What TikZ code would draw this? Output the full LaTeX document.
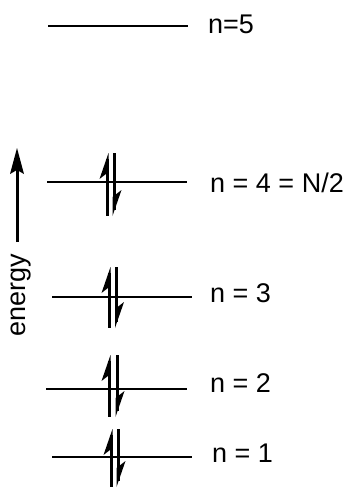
\documentclass[tikz,border=0pt]{standalone}
\usepackage{fontspec}
\setmainfont{Liberation Sans}
\begin{document}
\begin{tikzpicture}[x=1pt,y=-1pt,
  level/.style={line width=2pt},
  shaft/.style={line width=3pt},
  lbl/.style={anchor=base west,inner sep=0pt,font=\fontsize{27}{32}\selectfont}]
\useasboundingbox (0,0) rectangle (343,488);
\newcommand{\spinpair}[4]{%
  % #1 x up, #2 x down, #3 y top, #4 y bottom
  \draw[shaft] (#1,#3+6) -- (#1,#4);
  \fill (#1+1.5,#3) -- (#1-7.5,#3+26) -- (#1+1.5,#3+19) -- cycle;
  \draw[shaft] (#2,#3) -- (#2,#4-6);
  \fill (#2-1.5,#4) -- (#2+7.5,#4-26) -- (#2-1.5,#4-19) -- cycle;
}
% levels
\coordinate (l5a) at (48,26);  \coordinate (l5b) at (188,26);
\coordinate (l4a) at (47,182); \coordinate (l4b) at (187,182);
\coordinate (l3a) at (52,297); \coordinate (l3b) at (192,297);
\coordinate (l2a) at (46,389); \coordinate (l2b) at (187,389);
\coordinate (l1a) at (52,457); \coordinate (l1b) at (192,457);
\draw[level] (l5a) -- (l5b);
\draw[level] (l4a) -- (l4b);
\draw[level] (l3a) -- (l3b);
\draw[level] (l2a) -- (l2b);
\draw[level] (l1a) -- (l1b);
% spins
\spinpair{107}{114}{153}{216}
\spinpair{109}{116.5}{267}{328}
\spinpair{109}{117}{355}{417}
\spinpair{111}{118}{429}{487}
% labels
\node[lbl] (t5) at (208,33) {n=5};
\node[lbl] (t4) at (210,192) {n = 4 = N/2};
\node[lbl] (t3) at (210,302) {n = 3};
\node[lbl] (t2) at (210,392) {n = 2};
\node[lbl] (t1) at (212,462) {n = 1};
% energy arrow
\coordinate (ea) at (17,242);
\coordinate (eb) at (17,168);
\draw[shaft] (ea) -- (eb);
\fill (17,148) -- (24,174) -- (17,170) -- (10,174) -- cycle;
\node[rotate=90,anchor=base,inner sep=0pt,font=\fontsize{27}{32}\selectfont] (en) at (26,295) {energy};
\end{tikzpicture}
\end{document}
